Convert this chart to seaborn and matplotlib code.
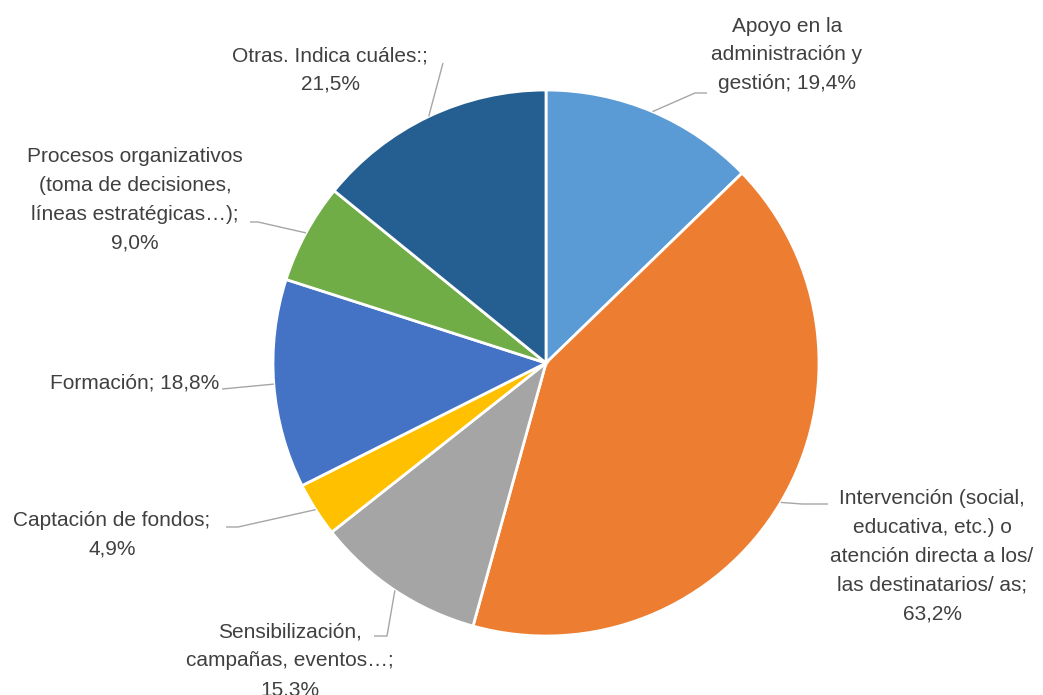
import numpy as np
import matplotlib
matplotlib.use("Agg")
import matplotlib.pyplot as plt
import seaborn as sns

# Share of respondents per area of volunteering (multiple answers allowed)
categories = [
    "Apoyo en la\nadministración y\ngestión",
    "Intervención (social,\neducativa, etc.) o\natención directa a los/\nlas destinatarios/ as",
    "Sensibilización,\ncampañas, eventos…",
    "Captación de fondos",
    "Formación",
    "Procesos organizativos\n(toma de decisiones,\nlíneas estratégicas…)",
    "Otras. Indica cuáles:",
]
values = [19.4, 63.2, 15.3, 4.9, 18.8, 9.0, 21.5]
colors = ["#5B9BD5", "#ED7D31", "#A5A5A5", "#FFC000", "#4472C4", "#70AD47", "#255E91"]

sns.set_theme(style="white")
plt.rcParams["font.family"] = ["Liberation Sans Narrow", "Liberation Sans", "DejaVu Sans"]

W, H = 1043, 695
fig = plt.figure(figsize=(W / 100, H / 100), dpi=100)
ax = fig.add_axes([0, 0, 1, 1])

cx, cy, r = 546, H - 363, 273
wedges, _ = ax.pie(
    values, colors=colors, startangle=90, counterclock=False,
    center=(cx, cy), radius=r,
    wedgeprops=dict(edgecolor="white", linewidth=2),
)
ax.set_xlim(0, W)
ax.set_ylim(0, H)
ax.set_aspect("equal")
ax.axis("off")

# label layout: text anchor (x, y from top), alignment, separator before the value,
# and the elbow points of each leader line (y from top)
layout = [
    dict(xy=(787, 55), ha="center", sep="; ", elbow=[(695, 93), (707, 93)]),
    dict(xy=(932, 556), ha="center", sep=";\n", elbow=[(802, 504), (828, 504)]),
    dict(xy=(290, 661), ha="center", sep=";\n", elbow=[(387, 636), (374, 636)]),
    dict(xy=(112, 535), ha="center", sep=";\n", elbow=[(238, 527), (226, 527)]),
    dict(xy=(219, 383), ha="right", sep="; ", elbow=[(222, 389)]),
    dict(xy=(135, 200), ha="center", sep=";\n", elbow=[(258, 222), (250, 222)]),
    dict(xy=(330, 70), ha="center", sep=";\n", elbow=[(443, 63)]),
]

for w, name, val, lay in zip(wedges, categories, values, layout):
    mid = np.deg2rad((w.theta1 + w.theta2) / 2)
    ex, ey = cx + r * np.cos(mid), cy + r * np.sin(mid)
    pts = [(ex, ey)] + [(x, H - y) for x, y in lay["elbow"]]
    xs, ys = zip(*pts)
    ax.plot(xs, ys, color="#A6A6A6", lw=1, solid_capstyle="butt")
    pct = f"{val:.1f}".replace(".", ",") + "%"
    label = f"{name}{lay['sep']}{pct}"
    tx, ty = lay["xy"]
    ax.text(tx, H - ty, label, ha=lay["ha"], va="center", ma="center",
            fontsize=15, color="#404040", linespacing=1.65)

fig.savefig("out.png", dpi=100)
